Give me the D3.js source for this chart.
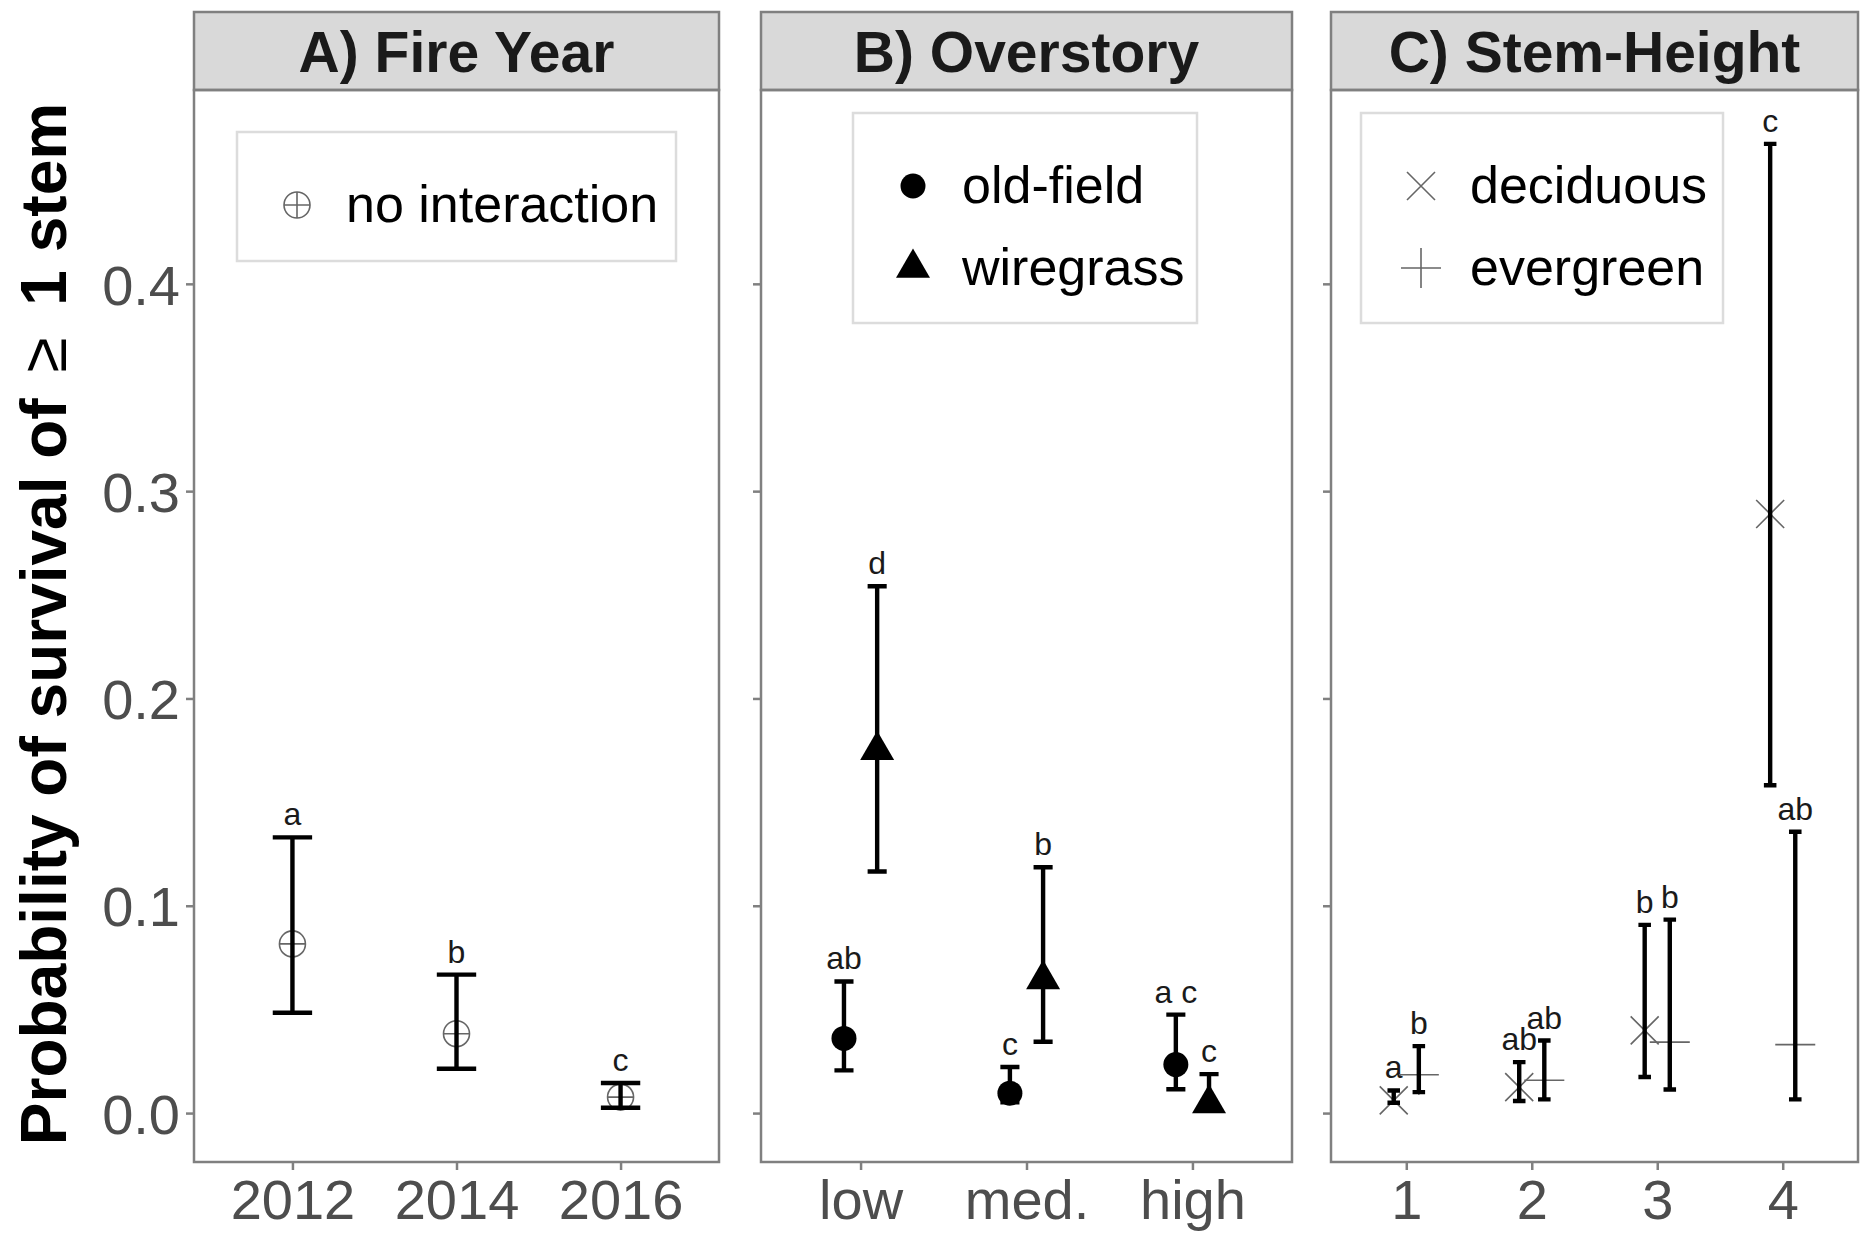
<!DOCTYPE html>
<html>
<head>
<meta charset="utf-8">
<script src="https://cdn.jsdelivr.net/npm/d3@7"></script>
<style>
  body { margin: 0; background: #fff; }
  text { font-family: "Liberation Sans", Arial, sans-serif; }
</style>
</head>
<body>
<svg id="chart" width="1870" height="1246"></svg>
<script>
// A) fire year
const yearCats = ['2012', '2014', '2016'];
const yearEst = [0.0816, 0.0383, 0.0077];
const yearLo = [0.0484, 0.0214, 0.0026];
const yearHi = [0.1330, 0.0668, 0.0145];
const yearLetters = ['a', 'b', 'c'];

// B) overstory
const overCats = ['low', 'med.', 'high'];
const oldFieldEst = [0.0360, 0.0096, 0.0234];
const oldFieldLo = [0.0206, 0.0052, 0.0115];
const oldFieldHi = [0.0635, 0.0222, 0.0475];
const oldFieldLetters = ['ab', 'c', 'a c'];
const wiregrassEst = [0.1750, 0.0645, 0.0046];
const wiregrassLo = [0.1165, 0.0344, 0.0012];
const wiregrassHi = [0.2541, 0.1186, 0.0188];
const wiregrassLetters = ['d', 'b', 'c'];

// C) stem height
const heightCats = ['1', '2', '3', '4'];
const decidEst = [0.0061, 0.0125, 0.0399, 0.2890];
const decidLo = [0.0050, 0.0058, 0.0174, 0.1581];
const decidHi = [0.0109, 0.0246, 0.0908, 0.4675];
const decidLetters = ['a', 'ab', 'b', 'c'];
const everEst = [0.0185, 0.0158, 0.0342, 0.0330];
const everLo = [0.0101, 0.0066, 0.0114, 0.0066];
const everHi = [0.0323, 0.0350, 0.0933, 0.1357];
const everLetters = ['b', 'ab', 'b', 'ab'];

const yTicks = [0, 0.1, 0.2, 0.3, 0.4];

const svg = d3.select('#chart');
const top0 = 12, stripH = 78, bottom = 1162;
const panelTop = top0 + stripH;
const border = '#808080';

const y = d3.scaleLinear().domain([-0.0236, 0.4935]).range([bottom, panelTop]);

function series(cats, est, lo, hi, letters) {
    return cats.map((c, i) => ({cat: c, est: est[i], lo: lo[i], hi: hi[i], letter: letters[i]}));
}

// symbol painters, centred on 0,0
const shapes = {
    oplus(g) {
        g.append('circle').attr('r', 13).attr('fill', 'none').attr('stroke', '#666').attr('stroke-width', 1.6);
        g.append('path').attr('d', 'M-13,0H13M0,-13V13').attr('stroke', '#666').attr('stroke-width', 1.6);
    },
    circle(g) {
        g.append('path').attr('d', d3.symbol(d3.symbolCircle, 490)()).attr('fill', '#000');
    },
    triangle(g) {
        g.append('path').attr('d', d3.symbol(d3.symbolTriangle, 500)()).attr('fill', '#000');
    },
    cross(g) {
        g.append('path').attr('d', 'M-14,-14L14,14M-14,14L14,-14').attr('stroke', '#666').attr('stroke-width', 1.6);
    },
    plus(g) {
        g.append('path').attr('d', 'M-20,0H20M0,-20V20').attr('stroke', '#666').attr('stroke-width', 1.6);
    }
};

function panel(opt) {
    const g = svg.append('g');
    const x = d3.scalePoint().domain(opt.cats).range([opt.x0, opt.x1]).padding(0.6);
    const step = x.step();

    // strip
    g.append('rect')
        .attr('x', opt.x0).attr('y', top0)
        .attr('width', opt.x1 - opt.x0).attr('height', stripH)
        .attr('fill', '#d9d9d9').attr('stroke', border).attr('stroke-width', 2.5);
    g.append('text')
        .attr('x', (opt.x0 + opt.x1) / 2).attr('y', top0 + 60)
        .attr('text-anchor', 'middle')
        .attr('font-size', 57).attr('font-weight', 'bold').attr('fill', '#1a1a1a')
        .text(opt.title);

    // axes
    const ya = g.append('g').attr('transform', `translate(${opt.x0},0)`)
        .call(d3.axisLeft(y).tickValues(yTicks).tickSize(8).tickPadding(6)
            .tickFormat(opt.yLabels ? d3.format('.1f') : () => ''));
    const xa = g.append('g').attr('transform', `translate(0,${bottom})`)
        .call(d3.axisBottom(x).tickSize(8).tickPadding(4));
    [ya, xa].forEach(a => {
        a.select('.domain').remove();
        a.selectAll('.tick line').attr('stroke', border).attr('stroke-width', 2.5);
        a.selectAll('.tick text').attr('fill', '#4d4d4d').attr('font-size', 56)
            .attr('font-family', '"Liberation Sans", Arial, sans-serif');
    });
    xa.selectAll('.tick text').attr('dy', '0.8em');
    ya.selectAll('.tick text').attr('dy', '0.36em');

    // border
    g.append('rect')
        .attr('x', opt.x0).attr('y', panelTop)
        .attr('width', opt.x1 - opt.x0).attr('height', bottom - panelTop)
        .attr('fill', 'none').attr('stroke', border).attr('stroke-width', 2.5);

    // legend
    const lg = g.append('g');
    lg.append('rect')
        .attr('x', opt.legend.x).attr('y', opt.legend.y)
        .attr('width', opt.legend.w).attr('height', opt.legend.h)
        .attr('fill', '#fff').attr('stroke', '#dcdcdc').attr('stroke-width', 2.5);
    opt.groups.forEach((s, i) => {
        const cy = opt.legend.firstY + i * 82;
        const kg = lg.append('g').attr('transform', `translate(${opt.legend.x + 60},${cy})`);
        shapes[s.shape](kg);
        lg.append('text')
            .attr('x', opt.legend.x + 109).attr('y', cy + 17)
            .attr('font-size', 52).attr('fill', '#000')
            .text(s.name);
    });

    // points, error bars, letters
    const n = opt.groups.length;
    opt.groups.forEach((s, gi) => {
        const off = n > 1 ? (gi === 0 ? -0.1 : 0.1) * step : 0;
        const cap = opt.cap * step / 2;
        const pts = g.append('g');
        s.data.forEach(d => {
            const cx = x(d.cat) + off;
            const pg = pts.append('g').attr('transform', `translate(${cx},${y(d.est)})`);
            shapes[s.shape](pg);
        });
        const bars = g.append('g').attr('stroke', '#000').attr('stroke-width', 4.4).attr('fill', 'none');
        bars.selectAll('path').data(s.data).join('path')
            .attr('d', d => {
                const cx = x(d.cat) + off;
                return `M${cx - cap},${y(d.hi)}H${cx + cap}M${cx},${y(d.hi)}V${y(d.lo)}M${cx - cap},${y(d.lo)}H${cx + cap}`;
            });
        g.append('g').selectAll('text').data(s.data).join('text')
            .attr('x', d => x(d.cat) + off)
            .attr('y', d => y(d.hi) - 12)
            .attr('text-anchor', 'middle')
            .attr('font-size', 32).attr('fill', '#1a1a1a')
            .text(d => d.letter);
    });
}

panel({
    title: 'A) Fire Year', x0: 194, x1: 719, cats: yearCats, yLabels: true, cap: 0.24,
    legend: {x: 237, y: 132, w: 439, h: 129, firstY: 205},
    groups: [{name: 'no interaction', shape: 'oplus', data: series(yearCats, yearEst, yearLo, yearHi, yearLetters)}]
});
panel({
    title: 'B) Overstory', x0: 761, x1: 1292, cats: overCats, yLabels: false, cap: 0.115,
    legend: {x: 853, y: 113, w: 344, h: 210, firstY: 186},
    groups: [
        {name: 'old-field', shape: 'circle', data: series(overCats, oldFieldEst, oldFieldLo, oldFieldHi, oldFieldLetters)},
        {name: 'wiregrass', shape: 'triangle', data: series(overCats, wiregrassEst, wiregrassLo, wiregrassHi, wiregrassLetters)}
    ]
});
panel({
    title: 'C) Stem-Height', x0: 1331, x1: 1858, cats: heightCats, yLabels: false, cap: 0.1,
    legend: {x: 1361, y: 113, w: 362, h: 210, firstY: 186},
    groups: [
        {name: 'deciduous', shape: 'cross', data: series(heightCats, decidEst, decidLo, decidHi, decidLetters)},
        {name: 'evergreen', shape: 'plus', data: series(heightCats, everEst, everLo, everHi, everLetters)}
    ]
});

// y-axis title
const yt = svg.append('text')
    .attr('transform', 'translate(66,624) rotate(-90)')
    .attr('text-anchor', 'middle')
    .attr('font-size', 64).attr('fill', '#000');
yt.append('tspan').attr('font-weight', 'bold').text('Probability of survival of ');
yt.append('tspan').attr('dx', 8).text('\u2265');
yt.append('tspan').attr('dx', 14).attr('font-weight', 'bold').text(' 1 stem');
</script>
</body>
</html>
